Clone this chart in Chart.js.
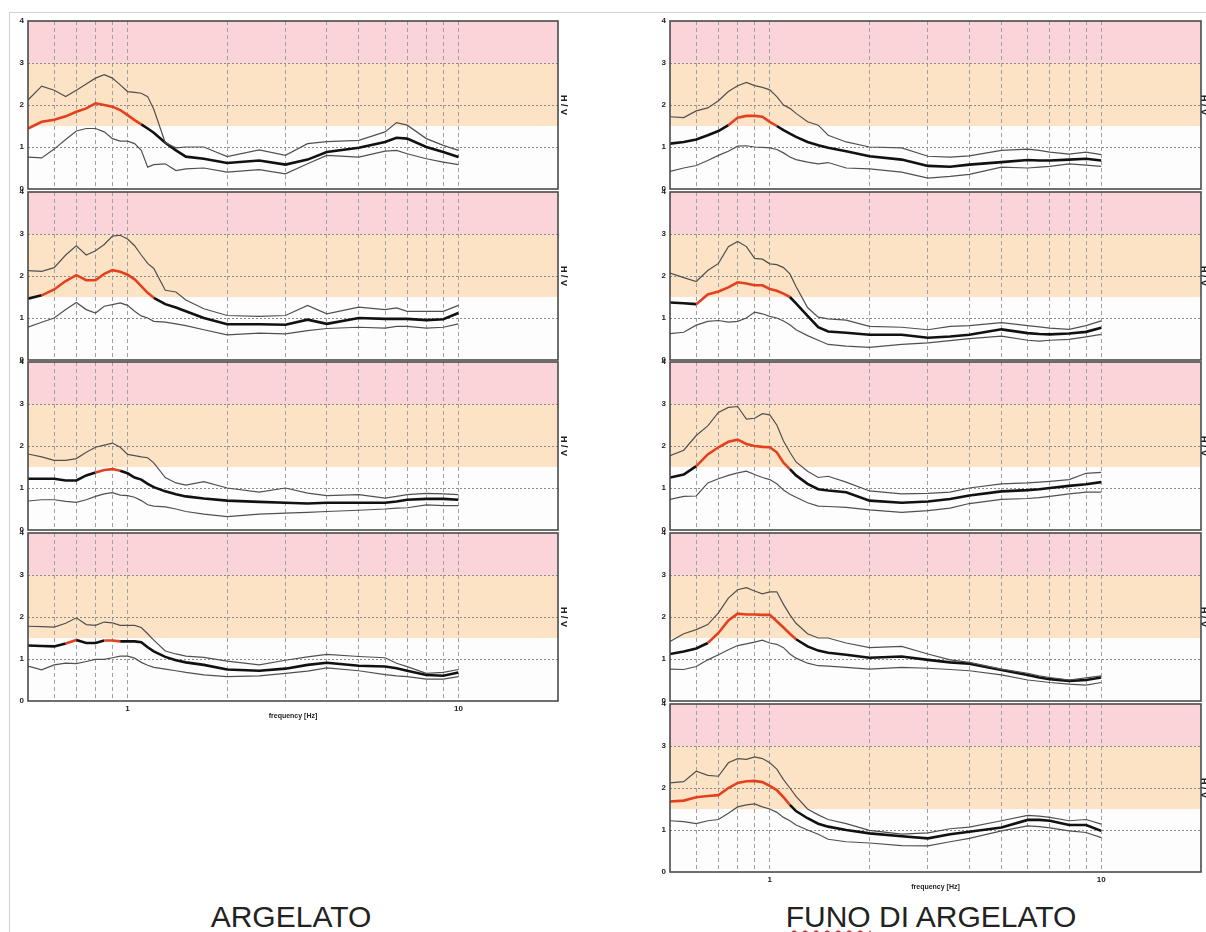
<!DOCTYPE html>
<html>
<head>
<meta charset="utf-8">
<script src="https://cdn.jsdelivr.net/npm/chart.js@4.4.0/dist/chart.umd.min.js"></script>
<style>
  body { margin: 0; background: #fff; width: 1206px; height: 932px; overflow: hidden; position: relative;
         font-family: "Liberation Sans", Arial, sans-serif; }
  #page { position: absolute; left: 9px; top: 12px; right: -4px; bottom: -4px;
          border-left: 1px solid #d2d2d2; border-top: 1px solid #d2d2d2; }
  canvas { position: absolute; }
  .site { position: absolute; top: 902px; width: 500px; text-align: center; font-size: 30px;
          line-height: 30px; color: #222; }
  .typo { text-decoration: underline wavy #d03030; text-decoration-thickness: 1.5px; text-underline-offset: 3px; }
</style>
</head>
<body>
<div id="page"></div>
<div class="site" style="left:41px">ARGELATO</div>
<div class="site" style="left:681px"><span class="typo">FUNO</span> DI ARGELATO</div>

<script>
// frequency axis of every H/V curve (Hz)
const freq = [0.5, 0.55, 0.6, 0.65, 0.7, 0.75, 0.8, 0.85, 0.9, 0.95, 1, 1.05, 1.1, 1.15, 1.2, 1.3, 1.4, 1.5, 1.7, 2, 2.5, 3, 3.5, 4, 5, 6, 6.5, 7, 8, 9, 10];
const gridFreq = [0.6, 0.7, 0.8, 0.9, 1, 2, 3, 4, 5, 6, 7, 8, 9, 10];
const freqLabels = [1, 10];
const yTicks = [0, 1, 2, 3, 4];
const bandEdges = [0, 1.5, 3, 4];

// ARGELATO
const arg1Up   = [2.12,2.45,2.35,2.2,2.35,2.5,2.64,2.72,2.64,2.48,2.32,2.3,2.28,2.2,1.9,1.1,0.98,1.0,1.0,0.77,0.93,0.8,1.08,1.13,1.16,1.36,1.58,1.52,1.2,1.04,0.92];
const arg1Mean = [1.44,1.6,1.65,1.73,1.84,1.92,2.04,2.0,1.96,1.88,1.76,1.64,1.54,1.44,1.34,1.1,0.92,0.77,0.72,0.62,0.68,0.58,0.7,0.88,0.98,1.12,1.22,1.2,1.0,0.88,0.76];
const arg1Low  = [0.76,0.74,0.95,1.18,1.38,1.44,1.44,1.36,1.2,1.14,1.14,1.08,0.92,0.52,0.58,0.6,0.44,0.48,0.5,0.4,0.46,0.36,0.6,0.8,0.76,0.9,0.92,0.84,0.72,0.64,0.58];
const arg1Peak = [[0.5, 1.12]];

const arg2Up   = [2.13,2.11,2.2,2.5,2.72,2.5,2.6,2.75,2.95,2.97,2.88,2.72,2.5,2.3,2.18,1.66,1.62,1.43,1.22,1.06,1.04,1.06,1.3,1.1,1.26,1.2,1.24,1.16,1.16,1.16,1.3];
const arg2Mean = [1.46,1.54,1.68,1.88,2.02,1.9,1.9,2.05,2.14,2.1,2.03,1.92,1.76,1.6,1.48,1.33,1.25,1.16,1.0,0.85,0.85,0.84,0.96,0.86,1.0,0.98,0.98,0.98,0.95,0.97,1.12];
const arg2Low  = [0.78,0.9,1.0,1.2,1.37,1.2,1.12,1.28,1.32,1.36,1.3,1.16,1.05,1.0,0.92,0.9,0.86,0.82,0.72,0.6,0.64,0.62,0.7,0.75,0.78,0.76,0.8,0.8,0.76,0.78,0.86];
const arg2Peak = [[0.56, 1.18]];

const arg3Up   = [1.81,1.74,1.66,1.66,1.7,1.85,1.97,2.02,2.07,1.97,1.8,1.77,1.74,1.72,1.6,1.25,1.12,1.07,1.15,1.0,0.9,1.0,0.88,0.82,0.84,0.76,0.8,0.84,0.87,0.86,0.84];
const arg3Mean = [1.22,1.22,1.22,1.18,1.18,1.3,1.37,1.43,1.45,1.41,1.35,1.25,1.2,1.1,1.02,0.92,0.85,0.8,0.75,0.7,0.67,0.65,0.63,0.65,0.65,0.65,0.68,0.72,0.74,0.74,0.72];
const arg3Low  = [0.69,0.72,0.72,0.68,0.66,0.72,0.8,0.86,0.89,0.83,0.82,0.78,0.7,0.6,0.57,0.55,0.5,0.44,0.38,0.32,0.38,0.4,0.42,0.44,0.47,0.5,0.52,0.53,0.6,0.58,0.58];
const arg3Peak = [[0.8, 0.96]];

const arg4Up   = [1.78,1.77,1.76,1.85,1.98,1.82,1.8,1.88,1.86,1.8,1.8,1.8,1.75,1.6,1.45,1.19,1.12,1.07,1.04,0.95,0.86,0.97,1.05,1.11,1.06,1.03,0.9,0.82,0.66,0.68,0.75];
const arg4Mean = [1.32,1.31,1.3,1.37,1.45,1.38,1.38,1.44,1.44,1.42,1.42,1.42,1.4,1.28,1.18,1.05,0.97,0.92,0.86,0.75,0.72,0.77,0.86,0.91,0.84,0.82,0.78,0.72,0.62,0.6,0.68];
const arg4Low  = [0.83,0.74,0.86,0.9,0.89,0.94,0.99,0.99,1.03,1.07,1.07,1.02,0.92,0.85,0.8,0.76,0.72,0.68,0.62,0.58,0.6,0.66,0.71,0.79,0.72,0.63,0.6,0.58,0.52,0.52,0.58];
const arg4Peak = [[0.67, 0.72], [0.83, 0.95]];

// FUNO DI ARGELATO
const funo1Up   = [1.72,1.7,1.86,1.93,2.1,2.32,2.46,2.54,2.46,2.42,2.36,2.2,2.0,1.92,1.8,1.6,1.52,1.28,1.12,1.0,0.98,0.78,0.76,0.79,0.92,0.95,0.92,0.88,0.83,0.88,0.82];
const funo1Mean = [1.08,1.12,1.18,1.28,1.38,1.52,1.7,1.74,1.74,1.72,1.6,1.5,1.4,1.32,1.24,1.12,1.04,0.98,0.9,0.78,0.7,0.55,0.53,0.58,0.64,0.69,0.68,0.68,0.7,0.72,0.68];
const funo1Low  = [0.42,0.5,0.56,0.68,0.8,0.9,1.02,1.03,1.0,0.99,0.98,0.94,0.86,0.76,0.7,0.64,0.6,0.63,0.5,0.48,0.4,0.26,0.3,0.35,0.52,0.5,0.52,0.54,0.6,0.57,0.54];
const funo1Peak = [[0.73, 1.06]];

const funo2Up   = [2.07,1.96,1.87,2.13,2.3,2.7,2.82,2.7,2.42,2.4,2.29,2.27,2.2,2.05,1.75,1.25,1.02,0.98,0.95,0.8,0.78,0.72,0.8,0.82,0.89,0.82,0.79,0.76,0.73,0.82,0.93];
const funo2Mean = [1.37,1.35,1.33,1.56,1.63,1.73,1.85,1.82,1.78,1.78,1.69,1.65,1.58,1.5,1.35,1.05,0.78,0.68,0.65,0.6,0.6,0.53,0.56,0.6,0.73,0.64,0.62,0.61,0.63,0.67,0.77];
const funo2Low  = [0.63,0.66,0.83,0.92,0.94,0.9,0.92,1.0,1.14,1.1,1.04,1.0,0.93,0.84,0.72,0.58,0.47,0.37,0.33,0.3,0.37,0.41,0.46,0.51,0.57,0.47,0.45,0.47,0.49,0.55,0.61];
const funo2Peak = [[0.62, 1.13]];

const funo3Up   = [1.77,1.9,2.25,2.48,2.8,2.92,2.94,2.64,2.66,2.77,2.74,2.5,2.12,1.85,1.62,1.4,1.25,1.28,1.14,0.93,0.86,0.87,0.9,1.0,1.1,1.12,1.14,1.16,1.2,1.35,1.37];
const funo3Mean = [1.25,1.32,1.52,1.8,1.97,2.1,2.15,2.05,2.0,1.98,1.97,1.85,1.6,1.45,1.3,1.1,0.97,0.94,0.9,0.7,0.65,0.68,0.74,0.82,0.92,0.95,0.97,1.0,1.05,1.09,1.14];
const funo3Low  = [0.73,0.8,0.81,1.12,1.22,1.3,1.36,1.4,1.32,1.25,1.2,1.1,0.95,0.85,0.78,0.65,0.57,0.56,0.54,0.48,0.42,0.46,0.52,0.63,0.73,0.75,0.77,0.8,0.86,0.9,0.9];
const funo3Peak = [[0.58, 1.13]];

const funo4Up   = [1.42,1.6,1.7,1.82,2.1,2.45,2.65,2.7,2.62,2.55,2.6,2.6,2.3,2.05,1.85,1.6,1.5,1.5,1.38,1.27,1.3,1.12,0.98,0.92,0.76,0.66,0.6,0.56,0.5,0.55,0.6];
const funo4Mean = [1.12,1.18,1.25,1.38,1.62,1.92,2.08,2.06,2.06,2.05,2.05,1.9,1.75,1.6,1.47,1.3,1.2,1.15,1.1,1.03,1.06,0.98,0.92,0.89,0.74,0.62,0.56,0.52,0.48,0.5,0.56];
const funo4Low  = [0.76,0.75,0.82,0.98,1.1,1.22,1.32,1.36,1.4,1.45,1.38,1.35,1.27,1.12,1.02,0.9,0.84,0.83,0.8,0.76,0.8,0.78,0.75,0.72,0.62,0.5,0.47,0.44,0.4,0.38,0.44];
const funo4Peak = [[0.66, 1.2]];

const funo5Up   = [2.12,2.15,2.4,2.3,2.28,2.6,2.7,2.68,2.74,2.7,2.6,2.45,2.2,2.0,1.8,1.5,1.36,1.25,1.15,0.99,0.9,0.93,1.03,1.07,1.22,1.35,1.33,1.3,1.22,1.25,1.14];
const funo5Mean = [1.68,1.7,1.78,1.81,1.83,2.0,2.12,2.16,2.17,2.14,2.05,1.95,1.78,1.6,1.45,1.28,1.15,1.08,1.0,0.92,0.85,0.8,0.9,0.96,1.06,1.24,1.24,1.22,1.12,1.12,0.98];
const funo5Low  = [1.22,1.2,1.15,1.22,1.25,1.4,1.55,1.6,1.62,1.55,1.5,1.42,1.3,1.22,1.12,1.0,0.9,0.78,0.72,0.69,0.63,0.62,0.72,0.8,0.98,1.1,1.08,1.05,0.98,0.94,0.82];
const funo5Peak = [[0.5, 1.16]];

// page layout (px)
const colLeft = [28, 670];
const colWidth = [530, 531];
const colRightPad = [11, 8];
const rowTop = [21, 192, 362, 533, 704];
const plotH = 168;

const panels = [
  {col: 0, row: 0, up: arg1Up, mean: arg1Mean, low: arg1Low, peak: arg1Peak},
  {col: 0, row: 1, up: arg2Up, mean: arg2Mean, low: arg2Low, peak: arg2Peak},
  {col: 0, row: 2, up: arg3Up, mean: arg3Mean, low: arg3Low, peak: arg3Peak},
  {col: 0, row: 3, up: arg4Up, mean: arg4Mean, low: arg4Low, peak: arg4Peak, last: true},
  {col: 1, row: 0, up: funo1Up, mean: funo1Mean, low: funo1Low, peak: funo1Peak},
  {col: 1, row: 1, up: funo2Up, mean: funo2Mean, low: funo2Low, peak: funo2Peak},
  {col: 1, row: 2, up: funo3Up, mean: funo3Mean, low: funo3Low, peak: funo3Peak},
  {col: 1, row: 3, up: funo4Up, mean: funo4Mean, low: funo4Low, peak: funo4Peak},
  {col: 1, row: 4, up: funo5Up, mean: funo5Mean, low: funo5Low, peak: funo5Peak, last: true}
];

Chart.defaults.font.family = "'Liberation Sans', Arial, sans-serif";

const bandColors = ['#fdfdfd', '#fde3c6', '#fad4d9'];

const bandsPlugin = {
  id: 'bands',
  beforeDraw(chart) {
    const {ctx, chartArea: a, scales: {y}} = chart;
    ctx.save();
    for (let i = 0; i < bandEdges.length - 1; i++) {
      const top = y.getPixelForValue(bandEdges[i + 1]);
      const bot = y.getPixelForValue(bandEdges[i]);
      ctx.fillStyle = bandColors[i];
      ctx.fillRect(a.left, top, a.right - a.left, bot - top);
    }
    ctx.restore();
  },
  afterDraw(chart) {
    const {ctx, chartArea: a} = chart;
    ctx.save();
    ctx.strokeStyle = '#4a4a4a';
    ctx.lineWidth = 1.6;
    ctx.strokeRect(a.left, a.top, a.right - a.left, a.bottom - a.top);
    ctx.restore();
  }
};

function toPoints(arr) {
  return freq.map((f, i) => ({x: f, y: arr[i]}));
}

function inPeak(ctx, ranges) {
  const m = Math.sqrt(ctx.p0.parsed.x * ctx.p1.parsed.x);
  return ranges.some(r => m >= r[0] && m <= r[1]);
}

function makePanel(p) {
  const padL = 24, padR = colRightPad[p.col], padT = 6, padB = p.last ? 20 : 6;
  const w = colWidth[p.col] + padL + padR;
  const h = plotH + padT + padB;
  const canvas = document.createElement('canvas');
  canvas.width = w;
  canvas.height = h;
  canvas.style.width = w + 'px';
  canvas.style.height = h + 'px';
  canvas.style.left = (colLeft[p.col] - padL) + 'px';
  canvas.style.top = (rowTop[p.row] - padT) + 'px';
  document.body.appendChild(canvas);

  new Chart(canvas.getContext('2d'), {
    type: 'line',
    data: {
      datasets: [
        {data: toPoints(p.up), borderColor: '#505050', borderWidth: 1.2, pointRadius: 0},
        {data: toPoints(p.low), borderColor: '#505050', borderWidth: 1.2, pointRadius: 0},
        {
          data: toPoints(p.mean), borderColor: '#111', borderWidth: 2.6, pointRadius: 0,
          segment: { borderColor: ctx => inPeak(ctx, p.peak) ? '#e5401d' : undefined }
        }
      ]
    },
    options: {
      responsive: false,
      maintainAspectRatio: false,
      animation: false,
      events: [],
      layout: { padding: {top: padT, left: 0, right: 0, bottom: 0} },
      plugins: { legend: {display: false}, tooltip: {enabled: false} },
      scales: {
        x: {
          type: 'logarithmic', min: 0.5, max: 20,
          afterBuildTicks: s => { s.ticks = gridFreq.map(v => ({value: v})); },
          afterFit: s => { s.height = padB; s.paddingLeft = 0; s.paddingRight = 0; },
          grid: { color: '#a0a0a0', lineWidth: 1, drawTicks: false },
          border: { display: false, dash: [4, 3] },
          ticks: {
            display: !!p.last, autoSkip: false, maxRotation: 0, padding: 3,
            color: '#222', font: {size: 8, weight: 'bold'},
            callback: v => freqLabels.includes(v) ? String(v) : ''
          },
          title: {
            display: !!p.last, text: 'frequency [Hz]', color: '#222',
            font: {size: 7, weight: 'bold'}, padding: {top: 0, bottom: 1}
          }
        },
        y: {
          min: 0, max: 4,
          afterBuildTicks: s => { s.ticks = yTicks.map(v => ({value: v})); },
          afterFit: s => { s.width = padL; s.paddingTop = 0; s.paddingBottom = 0; },
          grid: {
            drawTicks: false, lineWidth: 1,
            color: c => (c.tick.value === 0 || c.tick.value === 4) ? 'rgba(0,0,0,0)' : '#8a8a8a'
          },
          border: { display: false, dash: [2, 2] },
          ticks: { padding: 4, color: '#222', font: {size: 8, weight: 'bold'} }
        },
        yR: {
          position: 'right', min: 0, max: 4,
          afterFit: s => { s.width = padR; s.paddingTop = 0; s.paddingBottom = 0; },
          grid: { display: false },
          border: { display: false },
          ticks: { display: false },
          title: { display: true, text: 'H / V', color: '#222', font: {size: 9, weight: 'bold'}, padding: 0 }
        }
      }
    },
    plugins: [bandsPlugin]
  });
}

panels.forEach(makePanel);
</script>
</body>
</html>
